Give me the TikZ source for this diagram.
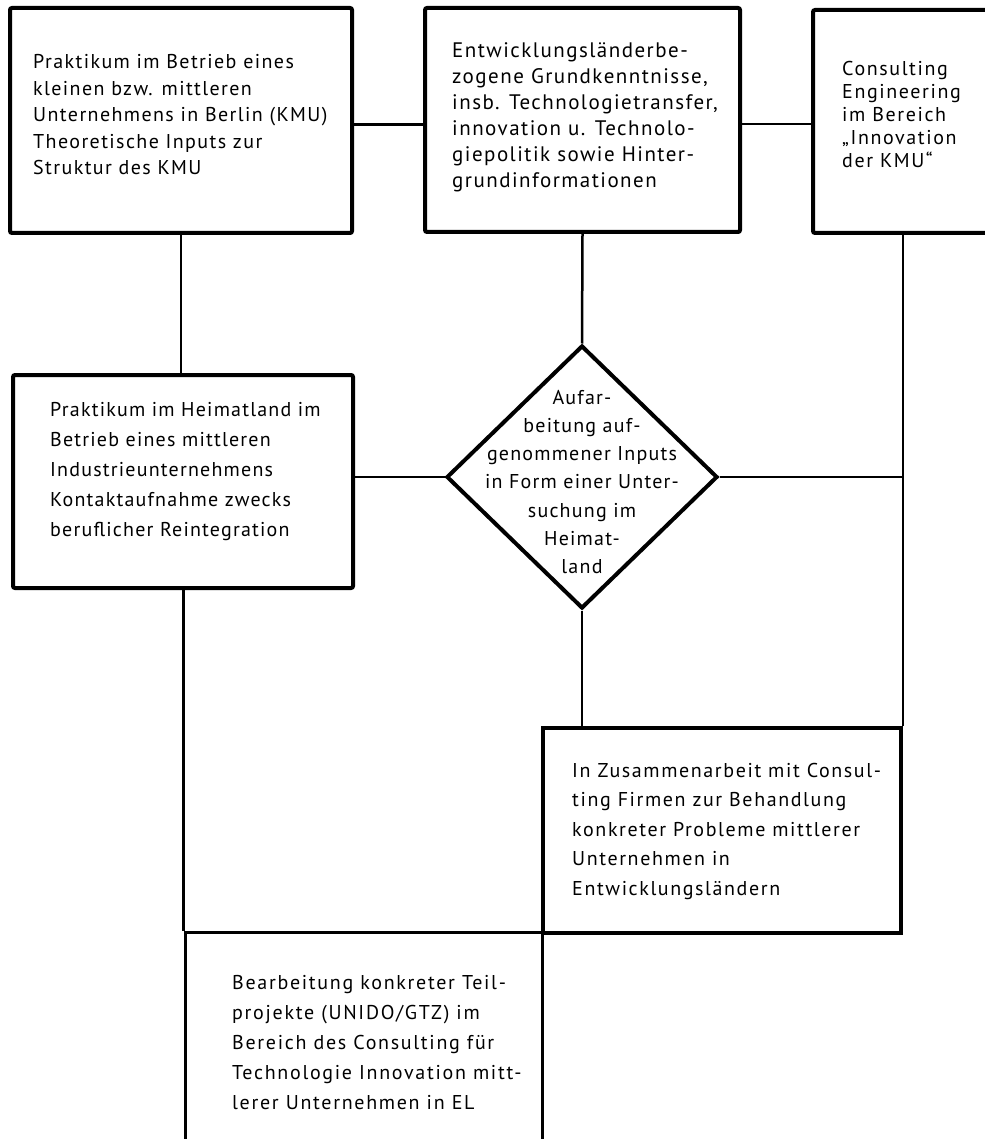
\documentclass[tikz,border=0pt]{standalone}
\usepackage{fontspec}
\setmainfont{PT Sans}
\usetikzlibrary{shapes.geometric}
\newcommand{\schriftart}[3]{\fontsize{#1}{#2}\selectfont\addfontfeature{LetterSpace=#3}}
\tikzset{
  kasten/.style={draw=black, line width=4pt, rounded corners=2pt, inner sep=0pt, rectangle},
  kastenduenn/.style={draw=black, line width=3pt, inner sep=0pt, rectangle},
  raute/.style={draw=black, line width=4pt, diamond, inner sep=0pt, minimum width=271pt, minimum height=263pt},
  linie/.style={draw=black, line width=2.5pt},
  schrift/.style={inner sep=0pt, anchor=west, align=left, text=black},
}
\begin{document}
\begin{tikzpicture}[x=1pt, y=-1pt]
\useasboundingbox (0,0) rectangle (984,1139);
\fill[white] (0,0) rectangle (984,1139);

% boxes
\node[kasten, minimum width=342pt, minimum height=225pt] (b1) at (181,120.5) {};
\node[kasten, minimum width=315pt, minimum height=224pt] (b2) at (582.5,120) {};
\node[kasten, minimum width=187pt, minimum height=223pt] (b3) at (906.5,121.5) {};
\node[kasten, minimum width=340pt, minimum height=213pt] (b4) at (183,481.5) {};
\node[raute] (dia) at (582,477) {};
\node[kastenduenn, line width=3.5pt, minimum width=358pt, minimum height=205pt] (b6) at (722,830.5) {};
\node[kastenduenn, minimum width=357pt, minimum height=228pt] (b7) at (363.5,1046) {};

% texts
\node[schrift, font=\schriftart{20}{26.5}{7}] (t1) at (33,115) {Praktikum im Betrieb eines\\kleinen bzw. mittleren\\Unternehmens in Berlin (KMU)\\Theoretische Inputs zur\\Struktur des KMU};
\node[schrift, font=\schriftart{21}{26}{7}] (t2) at (452,117) {Entwicklungsländerbe-\\zogene Grundkenntnisse,\\insb. Technologietransfer,\\innovation u. Technolo-\\giepolitik sowie Hinter-\\grundinformationen};
\node[schrift, font=\schriftart{20}{23}{8}] (t3) at (842,115) {Consulting\\Engineering\\im Bereich\\„Innovation\\der KMU“};
\node[schrift, font=\schriftart{20}{30}{6}] (t4) at (50,472) {Praktikum im Heimatland im\\Betrieb eines mittleren\\Industrieunternehmens\\Kontaktaufnahme zwecks\\beruflicher Reintegration};
\node[inner sep=0pt, align=center, font=\schriftart{20}{28.2}{6}] (t5) at (582,482) {Aufar-\\beitung auf-\\genommener Inputs\\in Form einer Unter-\\suchung im\\Heimat-\\land};
\node[schrift, font=\schriftart{20}{29.5}{8}] (t6) at (572,831) {In Zusammenarbeit mit Consul-\\ting Firmen zur Behandlung\\konkreter Probleme mittlerer\\Unternehmen in\\Entwicklungsländern};
\node[schrift, font=\schriftart{20}{30}{8.5}] (t7) at (232,1043) {Bearbeitung konkreter Teil-\\projekte (UNIDO/GTZ) im\\Bereich des Consulting für\\Technologie Innovation mitt-\\lerer Unternehmen in EL};

% connectors
\draw[linie] ([yshift=-4pt]b1.east) -- ([yshift=-4pt]b1.east -| b2.west);
\draw[linie] ([yshift=-4pt]b2.east) -- ([yshift=-4pt]b2.east -| b3.west);
\draw[linie] (b1.south) -- (b1.south |- b4.north);
\draw[linie] (b2.south) -- (dia.north);
\draw[linie] (dia.west -| b4.east) -- (dia.west);
\draw[linie] (dia.east) -- (dia.east -| b6.north east);
\draw[linie] (b6.north east |- b3.south) -- (b6.north east);
\draw[linie] (dia.south) -- (dia.south |- b6.north);
\draw[linie] (b7.north west |- b4.south) -- (b7.north west);
\end{tikzpicture}
\end{document}
